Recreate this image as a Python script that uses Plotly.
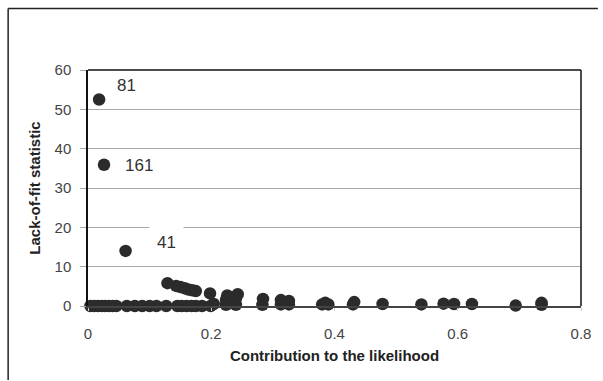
import plotly.graph_objects as go

# Contribution to the likelihood (x) and lack-of-fit statistic (y) per observation
contribution = [
    0.018, 0.026, 0.061,
    0.129, 0.143, 0.150, 0.157, 0.163, 0.169, 0.175, 0.198,
    0.224, 0.226, 0.232, 0.240, 0.243, 0.284, 0.313, 0.326,
    0.004, 0.010, 0.016, 0.022, 0.028, 0.034, 0.040, 0.046, 0.063, 0.076,
    0.088, 0.100, 0.111, 0.127, 0.145, 0.152, 0.160, 0.168, 0.175, 0.185,
    0.199, 0.204, 0.224, 0.240, 0.283, 0.313, 0.326,
    0.380, 0.385, 0.390, 0.430, 0.432, 0.478, 0.541, 0.577, 0.594,
    0.623, 0.694, 0.736, 0.736,
]
lack_of_fit = [
    52.5, 35.9, 14.0,
    5.8, 5.1, 4.8, 4.5, 4.2, 4.0, 3.8, 3.2,
    1.6, 2.7, 2.2, 1.9, 3.0, 1.8, 1.5, 1.3,
    0.0, 0.0, 0.0, 0.0, 0.0, 0.0, 0.0, 0.0, 0.0, 0.0,
    0.0, 0.0, 0.0, 0.0, 0.0, 0.0, 0.0, 0.0, 0.0, 0.0,
    0.0, 0.5, 0.3, 0.3, 0.3, 0.4, 0.4,
    0.4, 0.8, 0.4, 0.4, 1.0, 0.5, 0.4, 0.6, 0.5,
    0.5, 0.1, 0.3, 0.8,
]

# Observation numbers labelled next to the outlying points
label_text = ["81", "161", "41"]
label_x = [0.062, 0.083, 0.127]
label_y = [56.0, 35.6, 16.2]

x_ticks = [0, 0.2, 0.4, 0.6, 0.8]
x_tick_text = ["0", "0.2", "0.4", "0.6", "0.8"]
y_ticks = [0, 10, 20, 30, 40, 50, 60]

W, H = 603, 381
ML, MR, MT, MB = 88, 18, 70, 75
PW, PH = W - ML - MR, H - MT - MB


def px_to_paper(px, py):
    return (px - ML) / PW, (H - MB - py) / PH


font_family = "Liberation Sans, Arial, sans-serif"
ink = "#2b2b2b"

fig = go.Figure()
fig.add_trace(go.Scatter(
    x=contribution, y=lack_of_fit, mode="markers",
    marker=dict(size=12.5, color=ink, line=dict(width=0)),
    hoverinfo="skip", showlegend=False, cliponaxis=False,
))

for t, lx, ly in zip(label_text, label_x, label_y):
    boxed = t == "41"
    fig.add_annotation(
        x=lx, y=ly, text=t, showarrow=False, xanchor="center", yanchor="middle",
        font=dict(family=font_family, size=17, color="#333333"),
        bgcolor="white" if boxed else None,
        borderpad=7 if boxed else 0,
    )

# Outer frame around the whole figure (top and left edges)
x0p, y0p = px_to_paper(7.5, 8.5)
x1p, y1p = px_to_paper(W - 1, H - 1)
fig.add_shape(type="line", xref="paper", yref="paper", x0=x0p, y0=y0p, x1=x1p, y1=y0p,
              line=dict(color="#222222", width=1.5))
fig.add_shape(type="line", xref="paper", yref="paper", x0=x0p, y0=y0p, x1=x0p, y1=y1p,
              line=dict(color="#222222", width=1.5))

# Plot area border: black on top and right
fig.add_shape(type="line", xref="paper", yref="paper", x0=0, y0=1, x1=1, y1=1,
              line=dict(color="#111111", width=1.5), layer="above")
fig.add_shape(type="line", xref="paper", yref="paper", x0=1, y0=0, x1=1, y1=1,
              line=dict(color="#111111", width=1.5), layer="above")

fig.update_layout(
    width=W, height=H, autosize=False,
    margin=dict(l=ML, r=MR, t=MT, b=MB),
    paper_bgcolor="white", plot_bgcolor="white",
    font=dict(family=font_family, color="#444444"),
    xaxis=dict(
        range=[0, 0.8], tickvals=x_ticks, ticktext=x_tick_text,
        showgrid=False, zeroline=False,
        showline=True, linecolor="#444444", linewidth=1.5,
        ticks="outside", ticklen=3, tickcolor="#cccccc",
        tickfont=dict(size=15, color="#444444"),
        ticklabelstandoff=10,
        title=dict(text="<b>Contribution to the likelihood</b>",
                   font=dict(size=15, color="#222222"), standoff=10),
    ),
    yaxis=dict(
        range=[0, 60], tickvals=y_ticks,
        showgrid=True, gridcolor="#aaaaaa", gridwidth=1,
        zeroline=False,
        showline=True, linecolor="#111111", linewidth=1.5,
        ticks="outside", ticklen=6, tickcolor="#aaaaaa",
        tickfont=dict(size=15, color="#444444"),
        ticklabelstandoff=6,
        title=dict(text="<b>Lack-of-fit statistic</b>",
                   font=dict(size=15, color="#222222"), standoff=10),
    ),
)

fig.write_html("out.html", config={"responsive": False})
